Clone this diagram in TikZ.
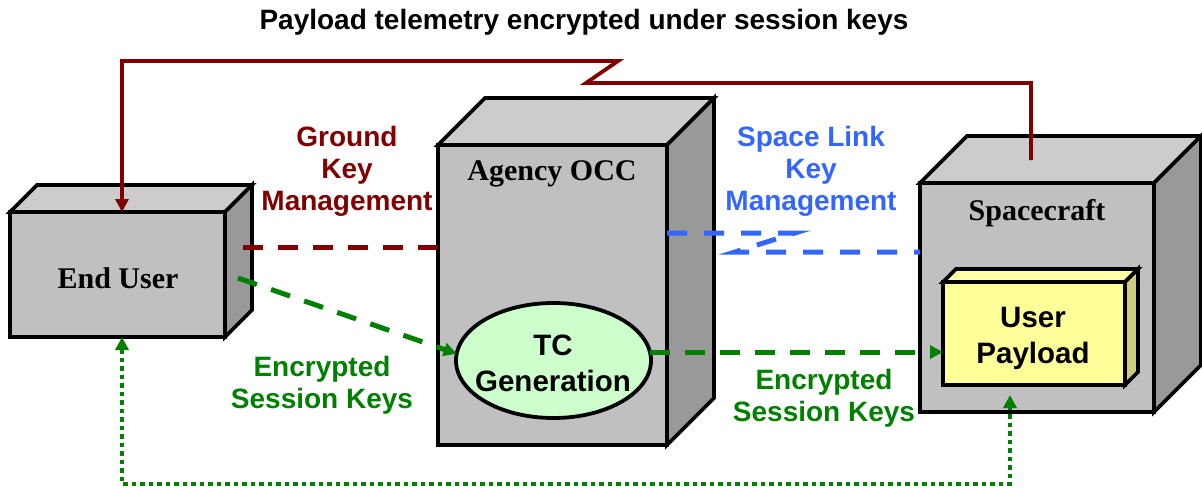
\documentclass[tikz,border=0pt]{standalone}
\usepackage{fontspec}
\setmainfont{Liberation Serif}
\newfontfamily\lsans{Liberation Sans}
\usetikzlibrary{arrows.meta,shapes.geometric}
\definecolor{dred}{HTML}{800000}
\definecolor{lblue}{HTML}{3366FF}
\definecolor{dgreen}{HTML}{008000}
\definecolor{faceF}{HTML}{C0C0C0}
\definecolor{faceT}{HTML}{CCCCCC}
\definecolor{faceS}{HTML}{999999}
\definecolor{ellF}{HTML}{CCFFCC}
\definecolor{payF}{HTML}{FFFF99}
\definecolor{payT}{HTML}{FFFFA8}
\definecolor{payS}{HTML}{CCCC80}
\begin{document}
\begin{tikzpicture}[x=1pt,y=-1pt,
  edge/.style={draw=black, line width=3.8pt, line join=miter},
  front/.style={edge, rectangle, inner sep=0pt, outer sep=0pt},
  boxtext/.style={font=\fontsize{30}{34}\selectfont\bfseries, inner sep=0pt, anchor=base},
  lbl/.style={font=\lsans\fontsize{28}{32}\selectfont\bfseries, align=center, inner sep=0pt},
  intext/.style={font=\lsans\fontsize{29.5}{36}\selectfont\bfseries, align=center, inner sep=0pt},
  redline/.style={draw=dred, line width=3.8pt},
  dashline/.style={line width=5pt, dash pattern=on 20pt off 15pt},
  dotline/.style={line width=4.5pt, dash pattern=on 4.5pt off 4pt},
  tip/.style={-{Triangle[length=13pt,width=13pt]}},
  bothtips/.style={{Triangle[length=13pt,width=13pt]}-{Triangle[length=13pt,width=13pt]}}
]
\useasboundingbox (0,0) rectangle (1202,488);

% End User cube
\node[front, fill=faceF, minimum width=215pt, minimum height=125pt] (eu) at (117.5,274.5) {};
\draw[edge, fill=faceT] (eu.north west) -- ++(27,-27) -- ++(215,0) -- (eu.north east) -- cycle;
\draw[edge, fill=faceS] (eu.north east) -- ++(27,-27) -- ++(0,125) -- (eu.south east) -- cycle;
\node[boxtext] (eut) at (118,288) {End User};

% Agency OCC cube
\node[front, fill=faceF, minimum width=229pt, minimum height=300pt] (occ) at (552.5,295) {};
\draw[edge, fill=faceT] (occ.north west) -- ++(47,-47) -- ++(229,0) -- (occ.north east) -- cycle;
\draw[edge, fill=faceS] (occ.north east) -- ++(47,-47) -- ++(0,300) -- (occ.south east) -- cycle;
\node[boxtext] (occt) at (552,180) {Agency OCC};

% Spacecraft cube
\node[front, fill=faceF, minimum width=234pt, minimum height=229pt] (sc) at (1037,297.5) {};
\draw[edge, fill=faceT] (sc.north west) -- ++(47,-47) -- ++(234,0) -- (sc.north east) -- cycle;
\draw[edge, fill=faceS] (sc.north east) -- ++(47,-47) -- ++(0,229) -- (sc.south east) -- cycle;
\node[boxtext] (sct) at (1037,220) {Spacecraft};

% User Payload
\draw[edge, fill=payT] (943,282) -- ++(13,-13) -- ++(182,0) -- (1125,282) -- cycle;
\draw[edge, fill=payS] (1125,282) -- ++(13,-13) -- ++(0,103) -- (1125,385) -- cycle;
\node[front, fill=payF, minimum width=182pt, minimum height=103pt] (pay) at (1034,333.5) {};
\node[intext] (payt) at (1033,338) {User\\Payload};

% TC Generation
\node[ellipse, edge, fill=ellF, minimum width=195pt, minimum height=115pt, inner sep=0pt, outer sep=0pt] (ell) at (553.5,360.5) {};
\node[intext] (tcg) at (553,363) {TC\\Generation};

% labels
\node[lbl, text=black] (title) at (584,22) {Payload telemetry encrypted under session keys};
\node[lbl, text=dred] (gkm) at (347,171) {Ground\\Key\\Management};
\node[lbl, text=lblue] (skm) at (811,171) {Space Link\\Key\\Management};
\node[lbl, text=dgreen] (esk1) at (322,385) {Encrypted\\Session Keys};
\node[lbl, text=dgreen] (esk2) at (824,398) {Encrypted\\Session Keys};

% connectors
\coordinate (scTop) at (1031,160);
\coordinate (euTop) at (122,212);
\draw[redline, tip] (scTop) -- (1031,83) -- (586,83) -- (618,61) -- (122,61) -- (euTop);

\coordinate (gkA) at (243,247);
\draw[draw=dred, dashline] (gkA) -- (gkA -| occ.west);

\coordinate (skA) at (667,233);
\coordinate (skB) at (735,252);
\draw[draw=lblue, dashline, dash pattern=on 20pt off 17pt] (skA) -- (795,233) -- (skB) -- (skB -| sc.west);

\coordinate (euSide) at (238,278);
\draw[draw=dgreen, dashline, tip] (euSide) -- (ell.176);
\draw[draw=dgreen, dashline, tip] (ell.5) -- (ell.5 -| pay.west);

\coordinate (euBot) at (122,337);
\coordinate (payBot) at (1010,395);
\draw[draw=dgreen, dotline, bothtips] (euBot) -- (122,484) -- (1010,484) -- (payBot);
\end{tikzpicture}
\end{document}
